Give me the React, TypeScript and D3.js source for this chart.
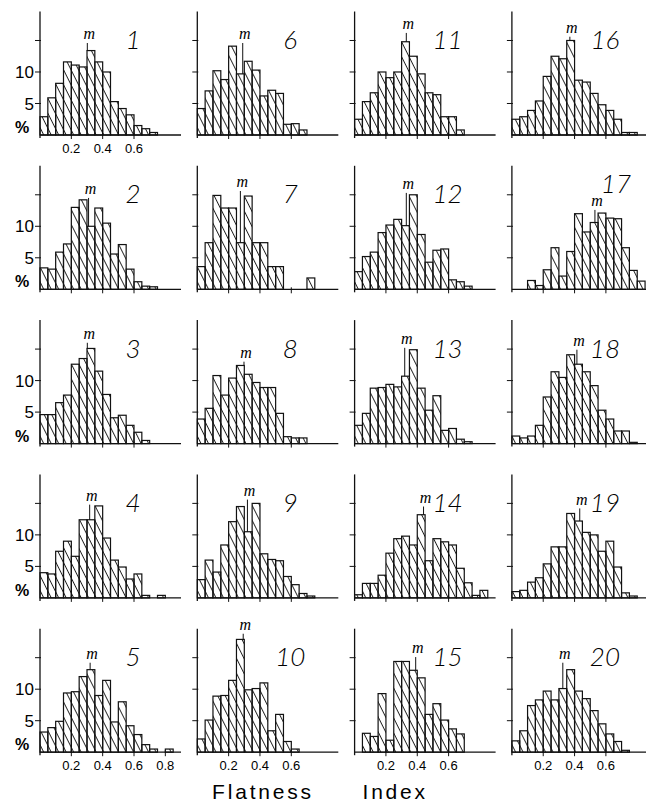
import React, { useRef, useEffect } from "react";
import * as d3 from "d3";

const W = 646;
const H = 803;

// bin heights in %, bins of 0.05 starting at 0
const hist1 = [2.9, 5.9, 8.2, 11.6, 11.1, 10.8, 13.4, 11.6, 10.0, 5.3, 4.2, 3.2, 1.5, 1.0, 0.4];
const hist2 = [3.4, 3.2, 5.9, 7.2, 13.0, 14.2, 10.0, 12.9, 10.5, 5.6, 7.1, 3.2, 1.2, 0.5, 0.4];
const hist3 = [4.6, 4.6, 6.5, 7.7, 12.6, 13.5, 15.1, 11.5, 7.8, 4.1, 4.5, 2.9, 1.8, 0.5];
const hist4 = [4.0, 3.8, 7.4, 9.0, 6.6, 12.4, 12.4, 14.6, 9.5, 6.0, 4.9, 3.0, 3.8, 0.4, 0, 0.4];
const hist5 = [3.2, 3.9, 4.9, 9.4, 9.6, 12.0, 13.1, 9.0, 11.4, 4.8, 8.0, 4.2, 2.8, 1.2, 0.5, 0, 0.5];
const hist6 = [4.2, 7.0, 10.2, 8.8, 14.1, 9.7, 11.7, 10.3, 6.2, 7.1, 6.6, 1.7, 1.8, 0.8];
const hist7 = [3.6, 7.4, 14.9, 12.9, 12.9, 7.4, 14.8, 7.4, 7.4, 3.6, 3.6, 0, 0, 0, 1.8];
const hist8 = [3.9, 5.6, 10.8, 7.7, 10.4, 12.4, 11.0, 9.7, 8.9, 8.9, 4.8, 1.1, 0.9, 0.9];
const hist9 = [2.9, 6.0, 4.1, 8.4, 12.1, 14.5, 10.5, 15.0, 7.0, 6.1, 5.9, 3.4, 2.1, 0.7, 0.3];
const hist10 = [2.1, 5.1, 8.9, 9.0, 11.4, 17.9, 9.9, 10.1, 11.0, 3.4, 6.0, 1.7, 0.5];
const hist11 = [2.5, 5.3, 6.7, 10.0, 9.1, 10.0, 14.8, 12.5, 9.7, 6.7, 6.4, 2.9, 2.9, 0.8];
const hist12 = [2.8, 5.2, 5.9, 9.0, 10.2, 11.1, 10.1, 15.0, 8.7, 4.3, 6.2, 6.4, 1.5, 1.2, 0.5];
const hist13 = [2.9, 4.8, 8.8, 8.9, 9.4, 9.0, 10.7, 14.9, 8.8, 5.3, 7.6, 2.1, 2.4, 0.7, 0.3];
const hist14 = [0.5, 2.3, 2.3, 3.6, 7.1, 9.4, 9.8, 8.4, 13.2, 5.9, 9.4, 8.9, 8.4, 4.7, 2.4, 0.4, 1.2];
const hist15 = [0, 3.0, 2.5, 9.3, 1.9, 14.4, 14.4, 13.0, 11.8, 6.0, 7.7, 5.1, 3.7, 2.9];
const hist16 = [2.5, 2.9, 3.9, 5.4, 9.3, 12.5, 12.1, 15.0, 8.7, 8.4, 6.6, 4.8, 3.9, 2.5, 0.4, 0.4];
const hist17 = [0, 0, 1.4, 0.6, 3.1, 6.6, 2.1, 6.0, 12.0, 9.1, 10.6, 12.1, 11.3, 11.2, 6.6, 3.0, 1.3];
const hist18 = [1.2, 0.9, 1.2, 2.9, 7.4, 11.4, 10.5, 14.1, 12.6, 11.4, 9.2, 5.3, 3.9, 2.0, 2.0, 0.2];
const hist19 = [1.0, 1.2, 2.5, 3.2, 5.4, 8.1, 8.1, 13.4, 12.2, 10.4, 10.0, 7.4, 9.0, 4.9, 0.8, 0.3];
const hist20 = [1.8, 3.4, 7.4, 8.3, 9.7, 8.3, 10.1, 13.1, 9.7, 8.5, 6.6, 4.5, 2.9, 1.7, 0.3];

const histograms = [
    hist1, hist2, hist3, hist4, hist5, hist6, hist7, hist8, hist9, hist10,
    hist11, hist12, hist13, hist14, hist15, hist16, hist17, hist18, hist19, hist20,
];
const panelLabels = histograms.map((_, i) => String(i + 1));

// mean flatness ("m") and the height (%) its label sits at
const means = [
    0.302, 0.31, 0.302, 0.317, 0.32, 0.29, 0.275, 0.298, 0.32, 0.293,
    0.33, 0.33, 0.32, 0.44, 0.39, 0.37, 0.53, 0.415, 0.433, 0.325,
];
const markLevels = [
    15.8, 15.7, 17.2, 16.0, 15.4, 15.8, 16.8, 14.2, 16.8, 20.0,
    17.4, 16.5, 16.4, 15.7, 16.3, 16.8, 13.8, 16.1, 15.4, 15.4,
];

const xTicks = [0.2, 0.4, 0.6];
const xTicksWide = [0.2, 0.4, 0.6, 0.8];
const yTicks = [5, 10, 15];
const yTickLabels = [5, 10];

const BIN = 0.05;
const dims = { left: 40, base: 135, colStep: 157.3, rowStep: 154.3, plotW: 141, plotH: 123.5 };
const FONT = "'Liberation Sans', Arial, sans-serif";
// panel 17's number sits higher, above its "m"
const labelShift = { 16: { dx: 11, dy: -10 } };

const App = () => {
    const canvas = useRef(null);
    const svg = useRef(null);

    useEffect(() => {
        if (svg.current) return;

        svg.current = d3
            .select(canvas.current)
            .append("svg")
            .attr("width", W)
            .attr("height", H)
            .style("position", "absolute")
            .style("left", 0)
            .style("top", 0)
            .style("background", "#fff");

        const pattern = svg.current
            .append("defs")
            .append("pattern")
            .attr("id", "hatch")
            .attr("patternUnits", "userSpaceOnUse")
            .attr("width", 6.7)
            .attr("height", 10)
            .attr("patternTransform", "rotate(-26.6)");
        pattern
            .append("line")
            .attr("x1", 3.35)
            .attr("x2", 3.35)
            .attr("y1", -1)
            .attr("y2", 11)
            .attr("stroke", "#111")
            .attr("stroke-width", 0.9);

        const x = d3.scaleLinear().domain([0, 0.9]).range([0, dims.plotW]);
        const y = d3.scaleLinear().domain([0, 19.6]).range([0, -dims.plotH]);

        histograms.forEach((values, i) => {
            const col = Math.floor(i / 5);
            const row = i % 5;
            const g = svg.current
                .append("g")
                .attr("transform", "translate(" + (dims.left + col * dims.colStep) + "," + (dims.base + row * dims.rowStep) + ")");

            const bins = values
                .map((v, j) => ({ x0: j * BIN, x1: (j + 1) * BIN, v }))
                .filter((d) => d.v > 0);

            g.selectAll("rect")
                .data(bins)
                .enter()
                .append("rect")
                .attr("x", (d) => x(d.x0))
                .attr("y", (d) => y(d.v))
                .attr("width", (d) => x(d.x1) - x(d.x0))
                .attr("height", (d) => -y(d.v))
                .attr("fill", "url(#hatch)")
                .attr("stroke", "#111")
                .attr("stroke-width", 1.2);

            // axes
            g.append("line")
                .attr("x1", 0)
                .attr("x2", x(0.9))
                .attr("y1", 0)
                .attr("y2", 0)
                .attr("stroke", "#111")
                .attr("stroke-width", 1.3);
            g.append("line")
                .attr("x1", 0)
                .attr("x2", 0)
                .attr("y1", 3)
                .attr("y2", y(19.6))
                .attr("stroke", "#111")
                .attr("stroke-width", 1.3);

            const ticks = i === 4 ? xTicksWide : xTicks;
            g.selectAll(".xt")
                .data(ticks)
                .enter()
                .append("line")
                .attr("x1", (d) => x(d))
                .attr("x2", (d) => x(d))
                .attr("y1", -2)
                .attr("y2", 4)
                .attr("stroke", "#111")
                .attr("stroke-width", 1);
            g.selectAll(".yt")
                .data(yTicks)
                .enter()
                .append("line")
                .attr("x1", -5)
                .attr("x2", 1)
                .attr("y1", (d) => y(d))
                .attr("y2", (d) => y(d))
                .attr("stroke", "#111")
                .attr("stroke-width", 1);

            if (row === 4 || i === 0) {
                g.selectAll(".xl")
                    .data(ticks)
                    .enter()
                    .append("text")
                    .attr("x", (d) => x(d))
                    .attr("y", 18)
                    .attr("text-anchor", "middle")
                    .attr("font-family", FONT)
                    .attr("font-size", 13)
                    .text((d) => d.toFixed(1));
            }
            if (col === 0) {
                g.selectAll(".yl")
                    .data(yTickLabels)
                    .enter()
                    .append("text")
                    .attr("x", -6)
                    .attr("y", (d) => y(d) + 6)
                    .attr("text-anchor", "end")
                    .attr("font-family", FONT)
                    .attr("font-size", 17)
                    .text((d) => d);
                g.append("text")
                    .attr("x", -18)
                    .attr("y", -2)
                    .attr("text-anchor", "middle")
                    .attr("font-family", FONT)
                    .attr("font-size", 16)
                    .attr("font-weight", "bold")
                    .text("%");
            }

            // mean marker
            const mean = means[i];
            const under = values[Math.floor(mean / BIN)] || 0;
            g.append("line")
                .attr("x1", x(mean))
                .attr("x2", x(mean))
                .attr("y1", y(under))
                .attr("y2", y(markLevels[i] - 1.2))
                .attr("stroke", "#111")
                .attr("stroke-width", 1);
            g.append("text")
                .attr("x", x(mean) + 2)
                .attr("y", y(markLevels[i]) + 4)
                .attr("text-anchor", "middle")
                .attr("font-family", "'Liberation Serif', serif")
                .attr("font-style", "italic")
                .attr("font-size", 16)
                .text("m");

            // panel number
            const shift = labelShift[i] || { dx: 0, dy: 0 };
            g.append("text")
                .attr("x", 93 + shift.dx)
                .attr("y", -86 + shift.dy)
                .attr("text-anchor", "middle")
                .attr("font-family", "Lato, 'Liberation Sans', sans-serif")
                .attr("font-weight", 300)
                .attr("font-style", "italic")
                .attr("font-size", 26)
                .text(panelLabels[i]);
        });

        svg.current
            .append("text")
            .attr("x", 320)
            .attr("y", 799)
            .attr("text-anchor", "middle")
            .attr("font-family", FONT)
            .attr("font-size", 21)
            .attr("letter-spacing", 2.8)
            .attr("word-spacing", 40)
            .text("Flatness Index");
    });

    return <div ref={canvas}></div>;
};

export default App;
